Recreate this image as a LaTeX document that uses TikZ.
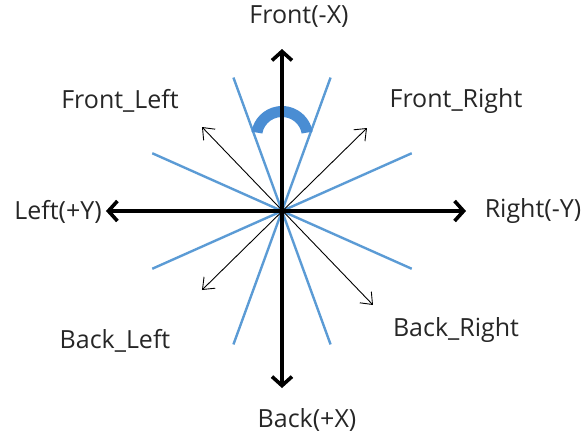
\documentclass[tikz,border=0pt]{standalone}
\usepackage{fontspec}
\setmainfont{Open Sans}
\usetikzlibrary{arrows.meta}
\definecolor{rayblue}{HTML}{5B9BD5}
\definecolor{arcblue}{HTML}{4A8DD3}
\definecolor{labelgray}{HTML}{262626}

\begin{document}
\begin{tikzpicture}[x=1pt,y=1pt,
    axis/.style={line width=3.6pt,{Straight Barb[length=9pt,width=20pt]}-{Straight Barb[length=9pt,width=20pt]}},
    diag/.style={line width=0.9pt,{Straight Barb[length=10pt,width=16pt]}-{Straight Barb[length=10pt,width=16pt]}},
    ray/.style={rayblue,line width=2.4pt},
    dirlabel/.style={text=labelgray,font=\fontsize{25}{29}\selectfont,inner sep=0pt}]
    \useasboundingbox (-282,-226) rectangle (302,211);
    % centre and arrow tips
    \coordinate (O) at (0,0);
    \coordinate (F) at (0,162);
    \coordinate (B) at (0,-177);
    \coordinate (L) at (-176,0);
    \coordinate (R) at (184,0);
    \coordinate (FL) at (-80,84);
    \coordinate (FR) at (85,83);
    \coordinate (BL) at (-80,-79);
    \coordinate (BR) at (91,-94);
    \coordinate (A) at (0,74);
    % blue sector lines
    \foreach \a in {24,-24,70,110} {
      \draw[ray] (\a+180:142) -- (\a:142);
    }
    \fill[arcblue] ([shift={(10:31)}]A) arc[start angle=10,end angle=170,radius=31]
      -- ([shift={(170:20)}]A) arc[start angle=170,end angle=10,radius=20] -- cycle;
    \draw[diag] (FL) -- (BR);
    \draw[diag] (FR) -- (BL);
    \draw[axis] (B) -- (F);
    \draw[axis] (L) -- (R);
    \node[dirlabel] (front) at (17,194) {Front(-X)};
    \node[dirlabel] (back) at (25,-209) {Back(+X)};
    \node[dirlabel] (left) at (-224,-1) {Left(+Y)};
    \node[dirlabel] (right) at (251,0) {Right(-Y)};
    \node[dirlabel] (frontleft) at (-162,110) {Front\_Left};
    \node[dirlabel] (frontright) at (174,110) {Front\_Right};
    \node[dirlabel] (backleft) at (-167,-130) {Back\_Left};
    \node[dirlabel] (backright) at (174,-119) {Back\_Right};
\end{tikzpicture}
\end{document}
